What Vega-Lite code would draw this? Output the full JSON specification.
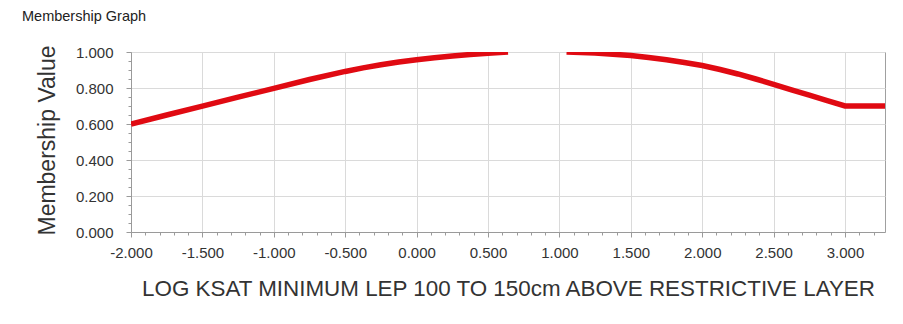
{
  "$schema": "https://vega.github.io/schema/vega-lite/v6.json",
  "width": 754,
  "height": 180,
  "autosize": {"type": "none"},
  "padding": {"left": 131, "top": 52, "right": 18, "bottom": 92},
  "background": "white",
  "title": {
    "text": "Membership Graph",
    "anchor": "start",
    "frame": "group",
    "dx": -109,
    "offset": 20,
    "font": "Liberation Sans",
    "fontSize": 14.5,
    "fontWeight": "normal",
    "color": "#222222"
  },
  "config": {
    "view": {"stroke": "#a0a0a0", "strokeWidth": 1},
    "axis": {
      "labelFont": "Liberation Sans",
      "labelFontSize": 15,
      "labelColor": "#333333",
      "titleFont": "Liberation Sans",
      "titleFontWeight": "normal",
      "titleColor": "#333333",
      "domainColor": "#9a9a9a",
      "tickColor": "#9a9a9a",
      "gridColor": "#dadada"
    }
  },
  "data": {
    "values": [
      {"seg": "a", "x": -2.0, "v": 0.600},
      {"seg": "a", "x": -1.75, "v": 0.650},
      {"seg": "a", "x": -1.5, "v": 0.699},
      {"seg": "a", "x": -1.25, "v": 0.749},
      {"seg": "a", "x": -1.0, "v": 0.798},
      {"seg": "a", "x": -0.75, "v": 0.847},
      {"seg": "a", "x": -0.5, "v": 0.892},
      {"seg": "a", "x": -0.375, "v": 0.912},
      {"seg": "a", "x": -0.25, "v": 0.929},
      {"seg": "a", "x": -0.125, "v": 0.944},
      {"seg": "a", "x": 0.0, "v": 0.957},
      {"seg": "a", "x": 0.125, "v": 0.968},
      {"seg": "a", "x": 0.25, "v": 0.978},
      {"seg": "a", "x": 0.375, "v": 0.986},
      {"seg": "a", "x": 0.5, "v": 0.993},
      {"seg": "a", "x": 0.64, "v": 1.0},
      {"seg": "b", "x": 1.05, "v": 1.0},
      {"seg": "b", "x": 1.25, "v": 0.995},
      {"seg": "b", "x": 1.375, "v": 0.988},
      {"seg": "b", "x": 1.5, "v": 0.980},
      {"seg": "b", "x": 1.625, "v": 0.969},
      {"seg": "b", "x": 1.75, "v": 0.957},
      {"seg": "b", "x": 1.875, "v": 0.942},
      {"seg": "b", "x": 2.0, "v": 0.925},
      {"seg": "b", "x": 2.125, "v": 0.903},
      {"seg": "b", "x": 2.25, "v": 0.878},
      {"seg": "b", "x": 2.375, "v": 0.850},
      {"seg": "b", "x": 2.5, "v": 0.820},
      {"seg": "b", "x": 2.625, "v": 0.790},
      {"seg": "b", "x": 2.75, "v": 0.760},
      {"seg": "b", "x": 2.875, "v": 0.730},
      {"seg": "b", "x": 3.0, "v": 0.700},
      {"seg": "b", "x": 3.28, "v": 0.700}
    ]
  },
  "mark": {"type": "line", "color": "#e00a12", "strokeWidth": 5.5, "clip": true},
  "encoding": {
    "detail": {"field": "seg", "type": "nominal"},
    "x": {
      "field": "x",
      "type": "quantitative",
      "scale": {"domain": [-2, 3.28], "nice": false, "zero": false},
      "axis": {
        "title": "LOG KSAT MINIMUM LEP 100 TO 150cm ABOVE RESTRICTIVE LAYER",
        "titleFontSize": 22.4,
        "titleY": 56,
        "titleBaseline": "middle",
        "values": [-2, -1.9, -1.8, -1.7, -1.6, -1.5, -1.4, -1.3, -1.2, -1.1, -1, -0.9, -0.8, -0.7, -0.6, -0.5, -0.4, -0.3, -0.2, -0.1, 0, 0.1, 0.2, 0.3, 0.4, 0.5, 0.6, 0.7, 0.8, 0.9, 1, 1.1, 1.2, 1.3, 1.4, 1.5, 1.6, 1.7, 1.8, 1.9, 2, 2.1, 2.2, 2.3, 2.4, 2.5, 2.6, 2.7, 2.8, 2.9, 3, 3.1, 3.2],
        "labelExpr": "abs(datum.value*2 - round(datum.value*2)) < 0.001 ? replace(format(datum.value, '.3f'), '\u2212', '-') : ''",
        "labelPadding": 8,
        "labelFlush": false,
        "labelOverlap": false,
        "tickSize": {"condition": {"test": "abs(datum.value*2 - round(datum.value*2)) < 0.001", "value": 5}, "value": 3},
        "gridOpacity": {"condition": {"test": "abs(datum.value*2 - round(datum.value*2)) < 0.001", "value": 1}, "value": 0}
      }
    },
    "y": {
      "field": "v",
      "type": "quantitative",
      "scale": {"domain": [0, 1], "nice": false},
      "axis": {
        "title": "Membership Value",
        "titleFontSize": 23,
        "titleX": -84,
        "titleY": 88,
        "titleAngle": -90,
        "titleAlign": "center",
        "titleBaseline": "middle",
        "values": [0, 0.05, 0.1, 0.15, 0.2, 0.25, 0.3, 0.35, 0.4, 0.45, 0.5, 0.55, 0.6, 0.65, 0.7, 0.75, 0.8, 0.85, 0.9, 0.95, 1],
        "labelExpr": "abs(datum.value*5 - round(datum.value*5)) < 0.001 ? format(datum.value, '.3f') : ''",
        "labelPadding": 13,
        "labelFlush": false,
        "labelOverlap": false,
        "tickSize": {"condition": {"test": "abs(datum.value*5 - round(datum.value*5)) < 0.001", "value": 5}, "value": 3},
        "gridOpacity": {"condition": {"test": "abs(datum.value*5 - round(datum.value*5)) < 0.001", "value": 1}, "value": 0}
      }
    }
  }
}
